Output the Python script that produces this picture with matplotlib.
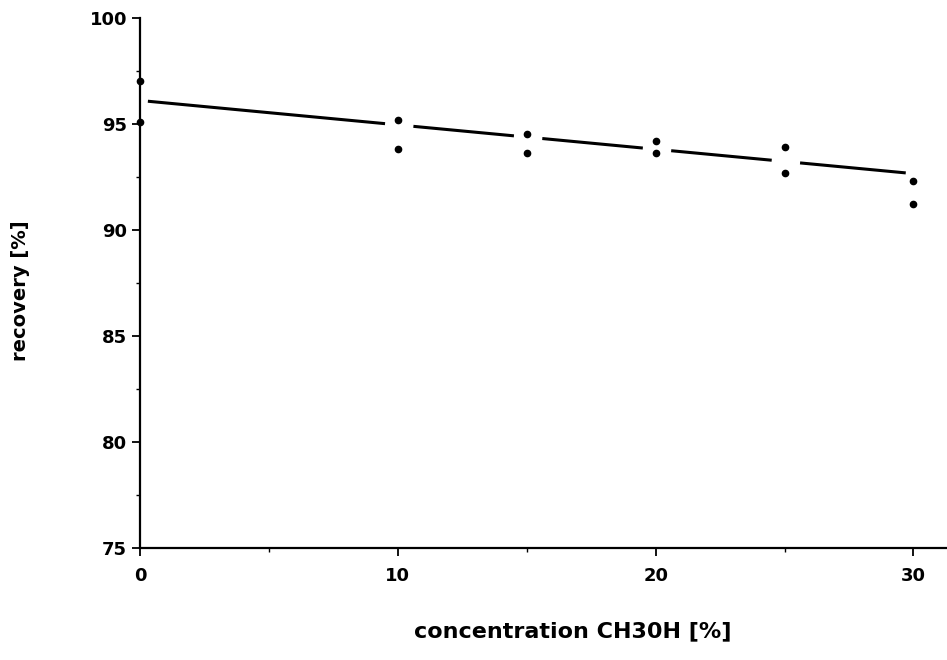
import matplotlib.pyplot as plt
import numpy as np

# methanol concentration [%] and measured recovery [%], two replicates each
conc = [0, 0, 10, 10, 15, 15, 20, 20, 25, 25, 30, 30]
recovery = [97.0, 95.1, 95.2, 93.8, 94.5, 93.6, 94.2, 93.6, 93.9, 92.7, 92.3, 91.2]

# fitted line (drawn broken around the measurement columns)
fit_intercept = 96.1
fit_slope = -0.115
line_start, line_end = 0.3, 29.7
gap_before, gap_after = 0.5, 0.6

x_ticks = [0, 10, 20, 30]
y_ticks = [75, 80, 85, 90, 95, 100]

fig = plt.figure(figsize=(9.47, 6.6), dpi=100)
ax = fig.add_axes([0.148, 0.17, 0.852, 0.803])

# broken regression line
cols = sorted(set(c for c in conc if c > 0))
starts = [line_start] + [c + gap_after for c in cols[:-1]]
ends = [c - gap_before for c in cols[:-1]] + [line_end]
for a, b in zip(starts, ends):
    xs = np.array([a, b])
    ax.plot(xs, fit_intercept + fit_slope * xs, color='black', lw=2.2, solid_capstyle='butt')

ax.plot(conc, recovery, 'o', color='black', ms=4.5, clip_on=False, zorder=3)

ax.set_xlim(0, 31.3)
ax.set_ylim(75, 100)
ax.set_xticks(x_ticks)
ax.set_yticks(y_ticks)
ax.set_xticks([5, 15, 25], minor=True)
ax.set_yticks(np.arange(77.5, 100, 5), minor=True)
ax.spines['top'].set_visible(False)
ax.spines['right'].set_visible(False)
ax.spines['left'].set_linewidth(1.6)
ax.spines['bottom'].set_linewidth(1.6)
ax.tick_params(axis='both', which='major', length=6, width=1.3, labelsize=13)
ax.tick_params(axis='both', which='minor', length=3, width=1.0)
ax.tick_params(axis='x', pad=8)
for lbl in ax.get_xticklabels() + ax.get_yticklabels():
    lbl.set_fontweight('bold')

fig.text(0.605, 0.043, 'concentration CH30H [%]', ha='center', va='center',
         fontsize=16, fontweight='bold')
fig.text(0.022, 0.56, 'recovery [%]', ha='center', va='center', rotation=90,
         fontsize=14, fontweight='bold')

fig.savefig('out.png', dpi=100)
